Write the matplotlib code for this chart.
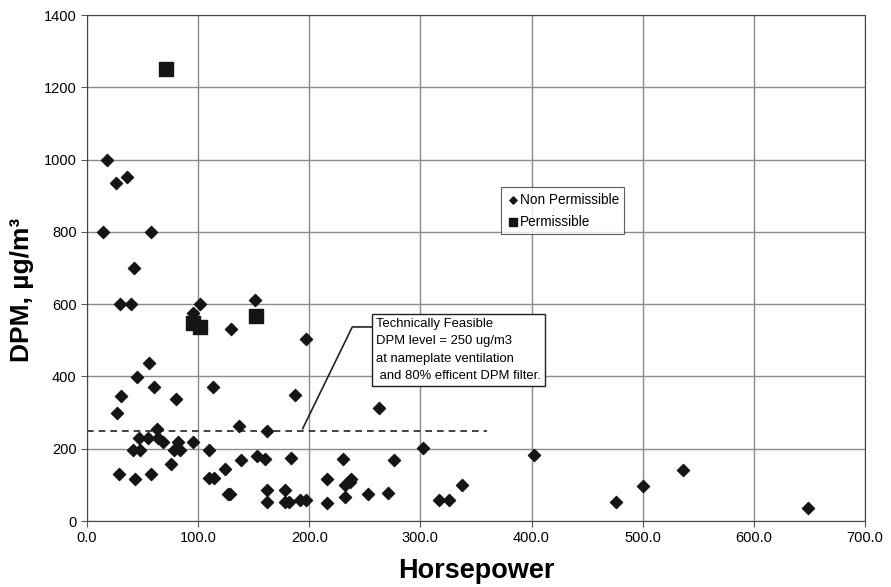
import matplotlib
matplotlib.use("Agg")
import matplotlib.pyplot as plt

plt.rcParams['font.family'] = ['Liberation Sans', 'DejaVu Sans']

# non permissible engines (horsepower, DPM ug/m3)
np_hp = [18, 26, 36, 14, 58, 42, 30, 40, 102, 95, 151, 130, 56, 45, 60, 113,
         31, 80, 27, 63, 47, 55, 64, 68, 82, 95, 41, 48, 78, 84, 110, 137,
         162, 187, 76, 139, 153, 160, 184, 124, 29, 43, 58, 110, 114, 127,
         129, 162, 162, 178, 178, 182, 192, 197, 216, 216, 197, 263, 230,
         232, 232, 237, 238, 253, 271, 302, 276, 317, 326, 337, 402, 476,
         500, 536, 649]
np_dpm = [1000, 935, 952, 800, 800, 700, 600, 600, 600, 575, 612, 531, 438,
          398, 372, 372, 347, 337, 298, 254, 229, 229, 229, 220, 219, 219,
          196, 196, 196, 196, 196, 263, 249, 349, 159, 170, 180, 171, 175,
          145, 129, 117, 129, 119, 119, 74, 74, 85, 54, 85, 54, 54, 59, 59,
          117, 51, 503, 312, 171, 67, 100, 109, 115, 75, 77, 202, 168, 57,
          57, 100, 182, 53, 96, 141, 35]

# permissible engines
p_hp = [71, 95, 102, 152]
p_dpm = [1250, 547, 536, 567]

feasible_level = 250
feasible_hp = [0, 360]

fig = plt.figure(figsize=(8.91, 5.87), dpi=100)
ax = fig.add_axes([0.0976, 0.1124, 0.8732, 0.862])

ax.grid(True, color='#8a8a8a', linewidth=1.0)
ax.set_axisbelow(True)

ax.plot(feasible_hp, [feasible_level, feasible_level], color='#222222',
        linestyle=(0, (4, 3)), linewidth=1.2, zorder=2)

ax.scatter(np_hp, np_dpm, marker='D', s=38, color='#151515', zorder=3,
           label='Non Permissible')
ax.scatter(p_hp, p_dpm, marker='s', s=95, color='#151515', zorder=3,
           label='Permissible')

ax.set_xlim(0, 700)
ax.set_ylim(0, 1400)
ax.set_xticks(range(0, 701, 100))
ax.set_xticklabels(['%.1f' % v for v in range(0, 701, 100)])
ax.set_yticks(range(0, 1401, 200))
ax.tick_params(labelsize=10.5, length=4, direction='out', color='#555555')
for s in ax.spines.values():
    s.set_color('#444444')

ax.set_xlabel('Horsepower', fontsize=19.5, fontweight='bold')
ax.set_ylabel('DPM, µg/m³', fontsize=19, fontweight='bold')
ax.xaxis.set_label_coords(0.5, -0.074)
ax.yaxis.set_label_coords(-0.068, 0.456)

leg = ax.legend(loc='upper left', bbox_to_anchor=(0.523, 0.673),
                handletextpad=0.0, borderpad=0.4, labelspacing=0.6,
                fontsize=9.8, frameon=True, fancybox=False,
                handlelength=1.0, markerscale=0.6)
leg.get_frame().set_edgecolor('#333333')
leg.get_frame().set_linewidth(0.8)

ax.annotate('Technically Feasible\nDPM level = 250 ug/m3\nat nameplate ventilation\n and 80% efficent DPM filter.',
            xy=(194, 255), xytext=(260, 473),
            fontsize=9.4, va='center', ha='left', zorder=4, linespacing=1.6,
            bbox=dict(boxstyle='square,pad=0.3', fc='white', ec='#222222', lw=1),
            arrowprops=dict(arrowstyle='-', color='#222222', lw=1.2,
                            shrinkA=0, shrinkB=0, relpos=(0, 0.86),
                            connectionstyle='angle,angleA=0,angleB=64,rad=0'))

fig.savefig('out.png', dpi=100)
